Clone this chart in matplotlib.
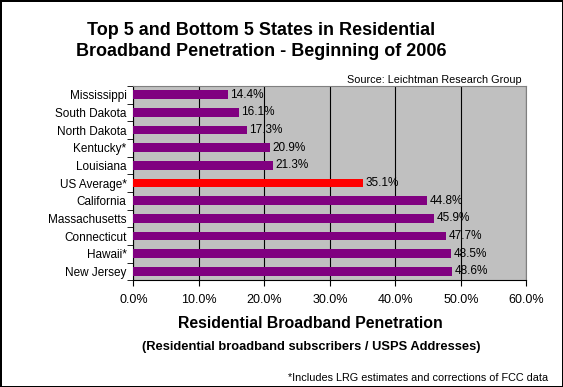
import numpy as np
import matplotlib.pyplot as plt
from matplotlib.ticker import FixedLocator

# Дані
states = ['Mississippi', 'South Dakota', 'North Dakota', 'Kentucky*', 'Louisiana',
          'US Average*', 'California', 'Massachusetts', 'Connecticut', 'Hawaii*', 'New Jersey']
values = [14.4, 16.1, 17.3, 20.9, 21.3, 35.1, 44.8, 45.9, 47.7, 48.5, 48.6]
colors = ['#800080'] * 5 + ['#FF0000'] + ['#800080'] * 5
xticks = [0, 10, 20, 30, 40, 50, 60]

plt.rcParams['font.family'] = ['Liberation Sans', 'DejaVu Sans']

fig = plt.figure(figsize=(5.63, 3.87), dpi=100)
fig.patch.set_edgecolor('black')
fig.patch.set_linewidth(2)

ax = fig.add_axes([0.237, 0.276, 0.698, 0.502])
ax.set_facecolor('#C0C0C0')

y = np.arange(len(states))
ax.barh(y, values, height=0.5, color=colors, zorder=3)
for yi, v in zip(y, values):
    ax.text(v + 0.4, yi, f'{v:.1f}%', va='center', ha='left', fontsize=8.5, zorder=4)

ax.set_xlim(0, 60)
ax.set_ylim(len(states) - 0.5, -0.5)
ax.set_xticks(xticks)
ax.set_xticklabels([f'{t:.1f}%' for t in xticks], fontsize=9)
ax.set_yticks(y)
ax.set_yticklabels(states, fontsize=8.5)
ax.tick_params(axis='y', length=0, pad=5)
ax.yaxis.set_minor_locator(FixedLocator(np.arange(-0.5, len(states), 1)))
ax.tick_params(axis='y', which='minor', length=4, direction='out')
ax.tick_params(axis='x', length=4, direction='out', pad=6)
ax.xaxis.grid(True, color='black', linewidth=0.8, zorder=1)

for side in ['top', 'right']:
    ax.spines[side].set_color('#808080')
for side in ['left', 'bottom']:
    ax.spines[side].set_color('black')

fig.text(0.464, 0.895, 'Top 5 and Bottom 5 States in Residential\nBroadband Penetration - Beginning of 2006',
         ha='center', va='center', fontsize=13, fontweight='bold', linespacing=1.3)
fig.text(0.927, 0.786, 'Source: Leichtman Research Group', ha='right', va='baseline', fontsize=7.8)
fig.text(0.552, 0.163, 'Residential Broadband Penetration', ha='center', va='center',
         fontsize=11.4, fontweight='bold')
fig.text(0.552, 0.103, '(Residential broadband subscribers / USPS Addresses)', ha='center', va='center',
         fontsize=9.3, fontweight='bold')
fig.text(0.973, 0.016, '*Includes LRG estimates and corrections of FCC data', ha='right', va='baseline',
         fontsize=7.8)

fig.savefig('out.png', dpi=100, edgecolor=fig.get_edgecolor())
